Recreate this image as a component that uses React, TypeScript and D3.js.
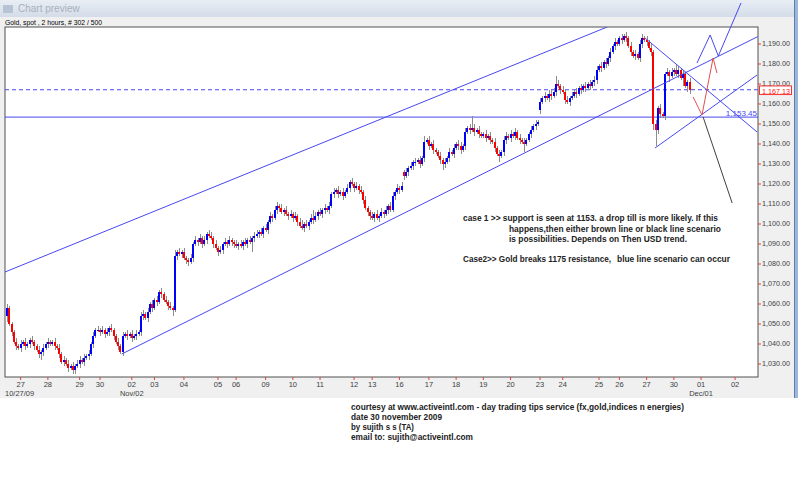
import React from "react";
import * as d3 from "d3";

// ---------- DATA ----------
const firstOpen = 1054;
const closes: number[] = [
  1058, 1050, 1046, 1041, 1039, 1038, 1040, 1041, 1039, 1040,
  1042, 1041, 1039, 1037, 1035, 1036, 1038, 1040, 1041, 1040,
  1041, 1039, 1038, 1035, 1031, 1032, 1030, 1028, 1029, 1027,
  1029, 1030, 1032, 1031, 1033, 1034, 1035, 1040, 1044, 1047,
  1047, 1046, 1047, 1045, 1046, 1048, 1047, 1044, 1041, 1039,
  1036, 1044, 1045, 1044, 1045, 1043, 1044, 1045, 1046, 1054,
  1055, 1053, 1056, 1060, 1058, 1062, 1061, 1066, 1065, 1062,
  1061, 1059, 1058, 1057, 1084, 1086, 1085, 1086, 1083, 1082,
  1081, 1083, 1090, 1092, 1091, 1093, 1090, 1092, 1095, 1094,
  1093, 1090, 1088, 1086, 1087, 1090, 1091, 1090, 1092, 1091,
  1090, 1089, 1090, 1089, 1091, 1090, 1092, 1091, 1093, 1094,
  1095, 1096, 1095, 1098, 1097, 1101, 1104, 1103, 1107, 1109,
  1108, 1106, 1107, 1105, 1104, 1105, 1103, 1104, 1101, 1099,
  1098, 1100, 1099, 1101, 1103, 1102, 1104, 1106, 1105, 1107,
  1108, 1107, 1109, 1115, 1116, 1117, 1115, 1116, 1114, 1116,
  1118, 1121, 1120, 1118, 1119, 1117, 1116, 1112, 1108, 1106,
  1104, 1103, 1105, 1103, 1104, 1106, 1105, 1107, 1109, 1107,
  1114, 1116, 1118, 1117, 1119, 1124, 1126, 1128, 1129, 1131,
  1131, 1132, 1130, 1133, 1141, 1142, 1139, 1140, 1137, 1136,
  1134, 1132, 1130, 1131, 1133, 1136, 1135, 1138, 1140, 1139,
  1137, 1139, 1146, 1148, 1147, 1148, 1146, 1147, 1145, 1144,
  1145, 1143, 1144, 1142, 1141, 1138, 1135, 1134, 1136, 1142,
  1144, 1143, 1145, 1144, 1146, 1143, 1142, 1141, 1140, 1142,
  1145, 1147, 1149, 1150, 1151, 1161, 1163, 1164, 1163, 1165,
  1164, 1166, 1170, 1169, 1167, 1166, 1162, 1161, 1163, 1164,
  1166, 1165, 1168, 1167, 1169, 1168, 1170, 1169, 1171, 1172,
  1177, 1179, 1178, 1181, 1180, 1183, 1186, 1189, 1191, 1190,
  1193, 1192, 1194, 1193, 1189, 1186, 1184, 1185, 1183, 1190,
  1193, 1192, 1191, 1188, 1186, 1150, 1147, 1158, 1155, 1154,
  1175, 1176, 1174, 1176, 1177, 1175, 1177, 1173, 1175, 1169, 1171, 1167.13,
];
// opens that gap away from the previous close: [bar index, open]
const gapOpens: [number, number][] = [
  [175, 1126],
  [235, 1157],
];
// wick extensions beyond the body, in dollars (one digit per bar)
const wickUp = [
  "2111212121", "1211212121", "1212121212", "1221212121", "2121212112",
  "1212121212", "2121212121", "2121312121", "1212121212", "2121212121",
  "1212121212", "2121212122", "1212121212", "3121242121", "2121212121",
  "2121212121", "1212121212", "2121212121", "2121312121", "1212121212",
  "2121262121", "1212121212", "2121212121", "1212121212", "2242121212",
  "1212121212", "2121212121", "1212121212", "2121212121", "1212132121", "12",
].join("");
const wickDown = [
  "3121212121", "2121232121", "1212121212", "2121212121", "1212121212",
  "1212121212", "2121212121", "1213121212", "2121212121", "1212121212",
  "2121212152", "1212121212", "2121212121", "1212121212", "2121212121",
  "1212121212", "2121212121", "1212121212", "2121212121", "1232121212",
  "2121212121", "1212121312", "2121212141", "1212121212", "2121212121",
  "1212121212", "2121212121", "1212121212", "2121238221", "2131212141", "32",
].join("");

const yTickValues = [1030, 1040, 1050, 1060, 1070, 1080, 1090, 1100, 1110, 1120, 1130, 1140, 1150, 1160, 1170, 1180, 1190];
const dayLabels = ["27", "28", "29", "30", "02", "03", "04", "05", "06", "09", "10", "11", "12", "13", "16", "17", "18", "19", "20", "23", "24", "25", "26", "27", "30", "01", "02"];
const dayStarts = [6, 18, 32, 41, 55, 65, 78, 93, 101, 114, 126, 138, 153, 161, 173, 186, 198, 210, 222, 235, 245, 261, 270, 282, 294, 306, 321];
const monthLabels = ["Nov/02", "Dec/01"];
const monthStarts = [55, 306];
const firstDateLabel = "10/27/09";

const supportLevel = 1153.45;
const lastPrice = 1167.13;

// trend lines: [[bar, price], [bar, price]]
const channelLines: [number, number][][] = [
  [[-0.9, 1076], [264.6, 1198.5]],
  [[50.6, 1035], [331, 1193.7]],
  [[281.3, 1193], [330.7, 1146]],
  [[285.7, 1138], [330.7, 1174.5]],
];
const blueScenario: [number, number][] = [[304.2, 1180.5], [310, 1194.5], [313.6, 1184], [323.6, 1210.5]];
const redScenario: [number, number][] = [[302.5, 1163.5], [306.4, 1154.5], [311.3, 1183], [313, 1175.5]];
const blackScenario: [number, number][] = [[306.9, 1153.5], [319.7, 1110.5]];

const headerText = "Gold, spot , 2 hours, # 302 / 500";
const noteLines = [
  "case 1 >> support is seen at 1153. a drop till is more likely. If this",
  "happens,then either brown line or black line scenario",
  "is possibilities. Depends on Then USD trend.",
  "Case2>> Gold breaks 1175 resistance,",
  "blue line scenario can occur",
];
const footerLines = [
  "courtesy at www.activeintl.com - day trading tips service (fx,gold,indices n energies)",
  "date 30 november 2009",
  "by sujith s s (TA)",
  "email to: sujith@activeintl.com",
];
const footerWidths = [333, 91, 63, 122];

// ---------- LAYOUT ----------
const W = 800;
const H = 500;
const P = { left: 5, right: 758, top: 27, bottom: 377 };

export default function App() {
  const x = d3.scaleLinear().domain([-0.9, 331.1]).range([P.left, P.right]);
  const y = d3.scaleLinear().domain([1023.5, 1198.5]).range([P.bottom, P.top]);
  const fmt = d3.format(",.2f");
  const gapMap = new Map(gapOpens);
  const line = d3.line<[number, number]>().x((d) => x(d[0])).y((d) => y(d[1]));

  const candles = closes.map((c, i) => {
    const o = gapMap.has(i) ? (gapMap.get(i) as number) : i === 0 ? firstOpen : closes[i - 1];
    const top = Math.max(o, c);
    const bot = Math.min(o, c);
    return { i, o, c, h: top + Number(wickUp[i] || 1), l: bot - Number(wickDown[i] || 1) };
  });

  const font = "'Liberation Sans', Arial, sans-serif";
  const lineBlue = "#4848f0";
  const axisFs = 6.8;

  return (
    <svg width={W} height={H} style={{ position: "fixed", left: 0, top: 0, background: "#fff" }} xmlns="http://www.w3.org/2000/svg">
      <defs>
        <linearGradient id="titleGrad" x1="0" y1="0" x2="0" y2="1">
          <stop offset="0" stopColor="#e9eef5" />
          <stop offset="1" stopColor="#d3dce8" />
        </linearGradient>
        <clipPath id="plotClip">
          <rect x={P.left} y={P.top} width={P.right - P.left} height={P.bottom - P.top} />
        </clipPath>
      </defs>
      <rect x={0} y={0} width={W} height={H} fill="#ffffff" />
      {/* window frame */}
      <rect x={0} y={0} width={798} height={398} fill="#f0f0f0" />
      <rect x={0} y={0} width={798} height={17} fill="url(#titleGrad)" />
      <rect x={3} y={5} width={10} height={8} fill="#b8c4d4" />
      <text x={18} y={12} fontFamily={font} fontSize={10} fill="#a8b0bc">Chart preview</text>
      <rect x={794} y={0} width={4} height={398} fill="#9db7d9" />
      <line x1={794.5} y1={0} x2={794.5} y2={398} stroke="#5a7fb5" />
      <text x={5} y={25} fontFamily={font} fontSize={8} fill="#000" textLength={97} lengthAdjust="spacingAndGlyphs">{headerText}</text>

      {/* plot area */}
      <rect x={P.left} y={P.top} width={P.right - P.left} height={P.bottom - P.top} fill="#fff" stroke="#505050" />

      {/* y axis */}
      {yTickValues.map((v) => (
        <g key={v}>
          <line x1={P.right} x2={P.right + 3} y1={y(v)} y2={y(v)} stroke="#e04040" />
          <text x={P.right + 4} y={y(v) + 1.9} fontFamily={font} fontSize={axisFs} fill="#404040" textLength={28} lengthAdjust="spacingAndGlyphs">{fmt(v)}</text>
        </g>
      ))}
      {/* x axis */}
      {dayStarts.map((d, k) => (
        <g key={k}>
          <line x1={x(d)} x2={x(d)} y1={P.bottom} y2={P.bottom + 3} stroke="#e04040" />
          <text x={x(d)} y={387} textAnchor="middle" fontFamily={font} fontSize={7.5} fill="#404040">{dayLabels[k]}</text>
        </g>
      ))}
      <text x={P.left} y={396} fontFamily={font} fontSize={7.5} fill="#404040">{firstDateLabel}</text>
      {monthStarts.map((d, k) => (
        <text key={k} x={x(d)} y={396} textAnchor="middle" fontFamily={font} fontSize={7.5} fill="#404040">{monthLabels[k]}</text>
      ))}

      <g clipPath="url(#plotClip)">
        {/* horizontal levels */}
        <line x1={P.left} x2={P.right} y1={y(supportLevel)} y2={y(supportLevel)} stroke={lineBlue} />
        <line x1={P.left} x2={P.right} y1={y(lastPrice)} y2={y(lastPrice)} stroke={lineBlue} strokeDasharray="4,3" />
        {/* candles */}
        <g shapeRendering="crispEdges">
          {candles.map((d) => {
            const cx = Math.round(x(d.i));
            return (
              <rect key={"w" + d.i} x={cx} width={1} y={y(d.h)} height={y(d.l) - y(d.h)} fill="#8c8c8c" />
            );
          })}
          {candles.map((d) => {
            const cx = Math.round(x(d.i));
            const up = d.c >= d.o;
            const t = y(Math.max(d.o, d.c));
            const b = y(Math.min(d.o, d.c));
            return (
              <rect key={"b" + d.i} x={cx - 1} width={2} y={t} height={Math.max(1, b - t)} fill={up ? "#0000ff" : "#ff0000"} />
            );
          })}
        </g>
        {/* trend lines */}
        {channelLines.map((l, k) => (
          <path key={k} d={line(l) || ""} fill="none" stroke={lineBlue} strokeWidth={1} />
        ))}
        <path d={line(redScenario) || ""} fill="none" stroke="#e05050" strokeWidth={1} />
        <path d={line(blackScenario) || ""} fill="none" stroke="#404040" strokeWidth={1} />
        <text x={P.right - 1} y={y(supportLevel) - 1} textAnchor="end" fontFamily={font} fontSize={8} fill={lineBlue}>{fmt(supportLevel)}</text>
      </g>
      <path d={line(blueScenario) || ""} fill="none" stroke={lineBlue} strokeWidth={1} />

      {/* last price tag */}
      <rect x={759.5} y={y(lastPrice) - 3.8} width={32} height={8.6} fill="#fff" stroke="#ff3030" />
      <text x={762} y={y(lastPrice) + 3.8} fontFamily={font} fontSize={axisFs} fill="#ff2020" textLength={28} lengthAdjust="spacingAndGlyphs">{fmt(lastPrice)}</text>

      {/* annotations */}
      <g fontFamily={font} fontSize={9} fontWeight="bold" fill="#222">
        <text x={463} y={221} textLength={255} lengthAdjust="spacingAndGlyphs">{noteLines[0]}</text>
        <text x={509} y={232} textLength={212} lengthAdjust="spacingAndGlyphs">{noteLines[1]}</text>
        <text x={509} y={242} textLength={178} lengthAdjust="spacingAndGlyphs">{noteLines[2]}</text>
        <text x={463} y={262} textLength={148} lengthAdjust="spacingAndGlyphs">{noteLines[3]}</text>
        <text x={617} y={262} textLength={113} lengthAdjust="spacingAndGlyphs">{noteLines[4]}</text>
      </g>
      <g fontFamily={font} fontSize={8.5} fontWeight="bold" fill="#222">
        {footerLines.map((t, k) => (
          <text key={k} x={351} y={410 + k * 10} textLength={footerWidths[k]} lengthAdjust="spacingAndGlyphs">{t}</text>
        ))}
      </g>
    </svg>
  );
}
